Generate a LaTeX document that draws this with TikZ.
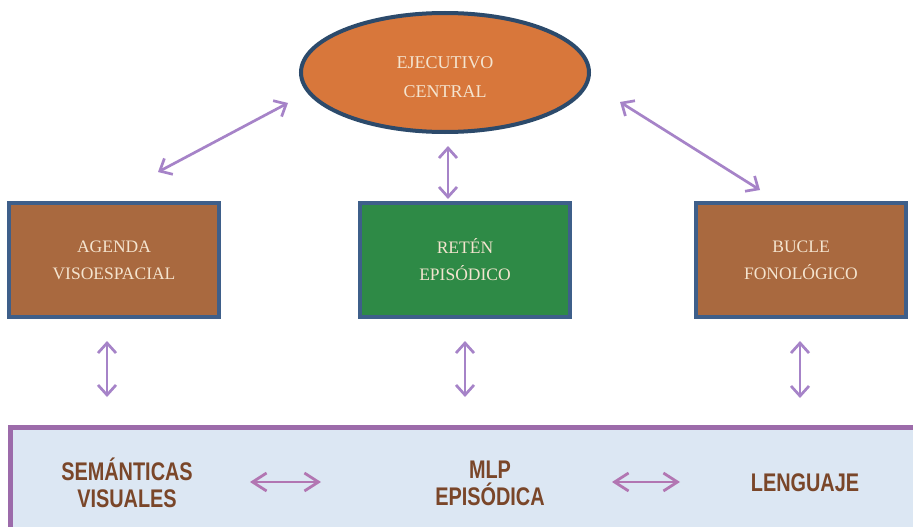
\documentclass[tikz,border=0pt]{standalone}
\usepackage{fontspec}
\setmainfont{Liberation Serif}
\newfontfamily\narrowbold[FakeStretch=0.78]{Liberation Sans}
\usetikzlibrary{arrows.meta,shapes.geometric}
\definecolor{ecfill}{HTML}{D8773B}
\definecolor{ecline}{HTML}{2C4A6B}
\definecolor{boxbrown}{HTML}{A9693F}
\definecolor{boxline}{HTML}{3E5F8A}
\definecolor{boxgreen}{HTML}{2E8A46}
\definecolor{cream}{HTML}{F4E4CF}
\definecolor{arrowpurple}{HTML}{A683C8}
\definecolor{barrowpurple}{HTML}{B276B2}
\definecolor{panelfill}{HTML}{DCE7F3}
\definecolor{panelline}{HTML}{9C6BAA}
\definecolor{bottomtext}{HTML}{7A4629}
\tikzset{
  memo/.style={draw=boxline, line width=4pt, minimum width=210, minimum height=114,
    text=cream, align=center, font=\fontsize{17.5}{27}\selectfont},
  ecnode/.style={ellipse, draw=ecline, line width=4pt, fill=ecfill, minimum width=288,
    minimum height=119, text=cream, align=center, font=\fontsize{18}{29}\selectfont},
  panelbox/.style={draw=panelline, line width=5pt, fill=panelfill, anchor=north west,
    minimum width=940, minimum height=130},
  ltm/.style={text=bottomtext, align=center, inner sep=0pt,
    font=\narrowbold\bfseries\fontsize{25.5}{27}\selectfont},
  darrow/.style={draw=arrowpurple, line width=2.7pt,
    {Straight Barb[length=10pt,width=18pt]}-{Straight Barb[length=10pt,width=18pt]}},
  barrow/.style={draw=barrowpurple, line width=2.8pt,
    {Straight Barb[length=14pt,width=18pt]}-{Straight Barb[length=14pt,width=18pt]}}
}
\begin{document}
\begin{tikzpicture}[x=1pt,y=-1pt]
\useasboundingbox (0,0) rectangle (913,527);
\clip (0,0) rectangle (913,527);
\fill[white] (0,0) rectangle (913,527);

\node[ecnode] (ec) at (445,72.5) {\rule{0pt}{22pt}EJECUTIVO\\CENTRAL};
\node[memo, fill=boxbrown] (ag) at (114,260) {AGENDA\\VISOESPACIAL};
\node[memo, fill=boxgreen] (rt) at (465,260) {RETÉN\\EPISÓDICO};
\node[memo, fill=boxbrown] (bf) at (801,260) {BUCLE\\FONOLÓGICO};

\node[panelbox] (mlp) at (8,425) {};
\node[ltm] (sv) at (127,483) {SEMÁNTICAS\\VISUALES};
\node[ltm] (ep) at (490,483) {MLP\\EPISÓDICA};
\node[ltm] (lg) at (805,483) {LENGUAJE};

\draw[darrow] ([shift={(-157,30.5)}]ec.center) -- ([shift={(44,-88)}]ag.center);
\draw[darrow] ([shift={(175,29.5)}]ec.center) -- ([shift={(-41,-70)}]bf.center);
\draw[darrow] ([shift={(3,12)}]ec.south) -- ([shift={(-17,-2)}]rt.north);
\draw[darrow] ([shift={(-7,22)}]ag.south) -- ([shift={(99,-28)}]mlp.north west);
\draw[darrow] ([shift={(0,22)}]rt.south) -- ([shift={(457,-28)}]mlp.north west);
\draw[darrow] ([shift={(-1,22)}]bf.south) -- ([shift={(792,-27)}]mlp.north west);

\draw[barrow] ([shift={(123,-1)}]sv.center) -- ([shift={(-169,-1)}]ep.center);
\draw[barrow] ([shift={(122,-1)}]ep.center) -- ([shift={(-125,-1)}]lg.center);
\end{tikzpicture}
\end{document}
